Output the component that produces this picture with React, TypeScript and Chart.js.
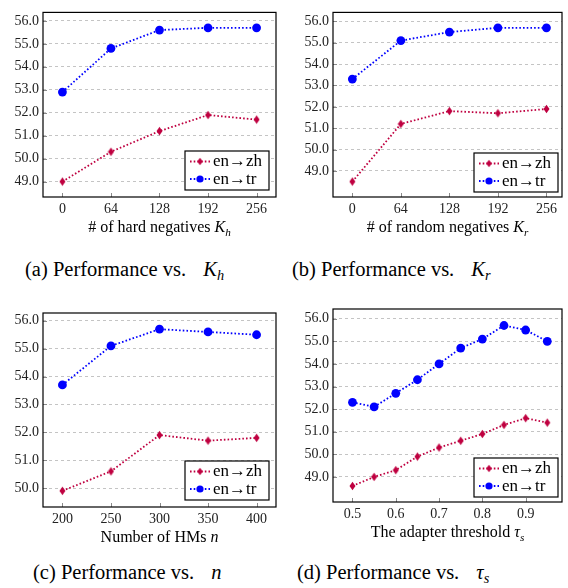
import React, { useEffect, useRef } from 'react';
import { Chart, registerables } from 'chart.js';

Chart.register(...registerables);

// ---------- data ----------
const seriesLabels = ['en\u2192zh', 'en\u2192tr'];

const kValues = [0, 64, 128, 192, 256];
const hardZh = [49.0, 50.3, 51.2, 51.9, 51.7];
const hardTr = [52.9, 54.8, 55.6, 55.7, 55.7];
const randZh = [48.5, 51.2, 51.8, 51.7, 51.9];
const randTr = [53.3, 55.1, 55.5, 55.7, 55.7];

const hmValues = [200, 250, 300, 350, 400];
const hmZh = [49.9, 50.6, 51.9, 51.7, 51.8];
const hmTr = [53.7, 55.1, 55.7, 55.6, 55.5];

const tauValues = [0.5, 0.55, 0.6, 0.65, 0.7, 0.75, 0.8, 0.85, 0.9, 0.95];
const tauZh = [48.6, 49.0, 49.3, 49.9, 50.3, 50.6, 50.9, 51.3, 51.6, 51.4];
const tauTr = [52.3, 52.1, 52.7, 53.3, 54.0, 54.7, 55.1, 55.7, 55.5, 55.0];

const kTicks = [0, 64, 128, 192, 256];
const hmTicks = [200, 250, 300, 350, 400];
const tauTicks = [0.5, 0.6, 0.7, 0.8, 0.9];
const yTicks49 = [49, 50, 51, 52, 53, 54, 55, 56];
const yTicks50 = [50, 51, 52, 53, 54, 55, 56];

const ZH_COLOR = 'rgb(191,0,64)';
const TR_COLOR = 'rgb(0,0,255)';
const SERIF = '"Liberation Serif", "Times New Roman", Tinos, "DejaVu Serif", serif';

type Seg = { t: string; italic?: boolean; sub?: boolean };

type Spec = {
  box: { left: number; top: number; w: number; h: number };
  area: { l: number; r: number; t: number; b: number };
  xs: number[];
  xTicks: number[];
  xMin: number;
  xMax: number;
  xFmt: (v: number) => string;
  yMin: number;
  yMax: number;
  yTicks: number[];
  zh: number[];
  tr: number[];
  title: Seg[];
  legendInset: { r: number; b: number };
};

function makeDiamond(w: number, h: number, color: string) {
  const c = document.createElement('canvas');
  c.width = Math.ceil(w) + 1;
  c.height = Math.ceil(h) + 1;
  const ctx = c.getContext('2d')!;
  const cx = c.width / 2;
  const cy = c.height / 2;
  ctx.fillStyle = color;
  ctx.beginPath();
  ctx.moveTo(cx, cy - h / 2);
  ctx.lineTo(cx + w / 2, cy);
  ctx.lineTo(cx, cy + h / 2);
  ctx.lineTo(cx - w / 2, cy);
  ctx.closePath();
  ctx.fill();
  return c;
}

function drawSegs(ctx: CanvasRenderingContext2D, segs: Seg[], cx: number, cy: number, size: number) {
  const fontOf = (s: Seg) => `${s.italic ? 'italic ' : ''}${s.sub ? size * 0.7 : size}px ${SERIF}`;
  let total = 0;
  const widths = segs.map((s) => {
    ctx.font = fontOf(s);
    const w = ctx.measureText(s.t).width;
    total += w;
    return w;
  });
  let x = cx - total / 2;
  ctx.textBaseline = 'alphabetic';
  ctx.textAlign = 'left';
  ctx.fillStyle = '#000';
  const base = cy + size * 0.33;
  segs.forEach((s, i) => {
    ctx.font = fontOf(s);
    ctx.fillText(s.t, x, s.sub ? base + size * 0.22 : base);
    x += widths[i];
  });
}

function PlotCanvas({ spec }: { spec: Spec }) {
  const ref = useRef<HTMLCanvasElement | null>(null);
  useEffect(() => {
    const canvas = ref.current!;
    const { box, area } = spec;
    const yw = area.l - box.left;
    const padTop = area.t - box.top;
    const padRight = box.left + box.w - area.r;
    const xh = box.top + box.h - area.b;

    const diamond = makeDiamond(6, 8.5, ZH_COLOR);
    const diamondSmall = makeDiamond(5.5, 7.5, ZH_COLOR);

    const framePlugin = {
      id: 'frame',
      beforeDatasetsDraw(chart: any) {
        const { ctx, chartArea: ca, scales } = chart;
        ctx.save();
        ctx.strokeStyle = '#8a8a8a';
        ctx.lineWidth = 1;
        spec.xTicks.forEach((v) => {
          const x = Math.round(scales.x.getPixelForValue(v)) + 0.5;
          ctx.beginPath();
          ctx.moveTo(x, ca.bottom);
          ctx.lineTo(x, ca.bottom - 4);
          ctx.stroke();
        });
        spec.yTicks.forEach((v) => {
          const y = Math.round(scales.y.getPixelForValue(v)) + 0.5;
          ctx.beginPath();
          ctx.moveTo(ca.left, y);
          ctx.lineTo(ca.left + 4, y);
          ctx.stroke();
        });
        ctx.strokeStyle = '#000';
        ctx.lineWidth = 1.2;
        ctx.strokeRect(ca.left, ca.top, ca.right - ca.left, ca.bottom - ca.top);
        ctx.restore();
      },
      afterDraw(chart: any) {
        const { ctx, chartArea: ca } = chart;
        ctx.save();
        drawSegs(ctx, spec.title, (ca.left + ca.right) / 2, ca.bottom + 30, 16);
        const lw = 84;
        const lh = 39;
        const lx = ca.right - spec.legendInset.r - lw;
        const ly = ca.bottom - spec.legendInset.b - lh;
        ctx.fillStyle = '#fff';
        ctx.fillRect(lx, ly, lw, lh);
        ctx.strokeStyle = '#000';
        ctx.lineWidth = 1.2;
        ctx.strokeRect(lx, ly, lw, lh);
        const rows = [
          { label: seriesLabels[0], color: ZH_COLOR, kind: 'diamond', y: ly + 10.5 },
          { label: seriesLabels[1], color: TR_COLOR, kind: 'circle', y: ly + 28 },
        ];
        rows.forEach((r) => {
          ctx.strokeStyle = r.color;
          ctx.lineWidth = 1.8;
          ctx.setLineDash([1.6, 2.1]);
          ctx.beginPath();
          ctx.moveTo(lx + 5, r.y);
          ctx.lineTo(lx + 25, r.y);
          ctx.stroke();
          ctx.setLineDash([]);
          if (r.kind === 'diamond') {
            ctx.drawImage(diamondSmall, lx + 15 - diamondSmall.width / 2, r.y - diamondSmall.height / 2);
          } else {
            ctx.fillStyle = r.color;
            ctx.beginPath();
            ctx.arc(lx + 15, r.y, 3.6, 0, Math.PI * 2);
            ctx.fill();
          }
          ctx.fillStyle = '#000';
          ctx.font = `17px ${SERIF}`;
          ctx.textBaseline = 'middle';
          ctx.textAlign = 'left';
          ctx.fillText(r.label, lx + 28, r.y + 0.5);
        });
        ctx.restore();
      },
    };

    const chart = new Chart(canvas, {
      type: 'line',
      data: {
        datasets: [
          {
            label: seriesLabels[0],
            data: spec.xs.map((x, i) => ({ x, y: spec.zh[i] })),
            borderColor: ZH_COLOR,
            backgroundColor: ZH_COLOR,
            borderWidth: 1.8,
            borderDash: [1.6, 2.1],
            borderCapStyle: 'butt',
            pointStyle: diamond as any,
            pointRadius: 4,
            tension: 0,
          },
          {
            label: seriesLabels[1],
            data: spec.xs.map((x, i) => ({ x, y: spec.tr[i] })),
            borderColor: TR_COLOR,
            backgroundColor: TR_COLOR,
            borderWidth: 1.8,
            borderDash: [1.6, 2.1],
            borderCapStyle: 'butt',
            pointStyle: 'circle',
            pointRadius: 4.4,
            pointBorderWidth: 0,
            tension: 0,
          },
        ],
      },
      options: {
        animation: false,
        responsive: false,
        devicePixelRatio: 1,
        events: [],
        layout: { padding: { left: 0, top: padTop, right: padRight, bottom: 0 } },
        plugins: { legend: { display: false }, tooltip: { enabled: false }, title: { display: false } },
        scales: {
          x: {
            type: 'linear',
            position: 'bottom',
            min: spec.xMin,
            max: spec.xMax,
            afterBuildTicks: (s: any) => {
              s.ticks = spec.xTicks.map((v) => ({ value: v }));
            },
            afterFit: (s: any) => {
              s.height = xh;
            },
            grid: { display: false, drawTicks: false },
            border: { display: false },
            ticks: {
              padding: 4,
              maxRotation: 0,
              autoSkip: false,
              color: '#222',
              font: { family: SERIF, size: 14 },
              callback: (v: any) => spec.xFmt(Number(v)),
            },
          },
          y: {
            type: 'linear',
            min: spec.yMin,
            max: spec.yMax,
            afterBuildTicks: (s: any) => {
              s.ticks = spec.yTicks.map((v) => ({ value: v }));
            },
            afterFit: (s: any) => {
              s.width = yw;
            },
            grid: { color: '#c4c4c4', lineWidth: 1, drawTicks: false },
            border: { display: false, dash: [3, 3] },
            ticks: {
              padding: 4,
              autoSkip: false,
              color: '#222',
              font: { family: SERIF, size: 14 },
              callback: (v: any) => Number(v).toFixed(1),
            },
          },
        },
      },
      plugins: [framePlugin],
    } as any);
    return () => chart.destroy();
  }, [spec]);

  return (
    <canvas
      ref={ref}
      width={spec.box.w}
      height={spec.box.h}
      style={{ position: 'absolute', left: spec.box.left, top: spec.box.top, width: spec.box.w, height: spec.box.h }}
    />
  );
}

const intFmt = (v: number) => String(Math.round(v));
const tauFmt = (v: number) => v.toFixed(1);

const specs: Spec[] = [
  {
    box: { left: 0, top: 0, w: 284, h: 250 },
    area: { l: 43, r: 276, t: 3, b: 197 },
    xs: kValues, xTicks: kTicks, xMin: -25.6, xMax: 281.6, xFmt: intFmt,
    yMin: 48.33, yMax: 56.37, yTicks: yTicks49,
    zh: hardZh, tr: hardTr,
    title: [{ t: '# of hard negatives ' }, { t: 'K', italic: true }, { t: 'h', italic: true, sub: true }],
    legendInset: { r: 7, b: 7 },
  },
  {
    box: { left: 284, top: 0, w: 284, h: 250 },
    area: { l: 333, r: 562, t: 3, b: 197 },
    xs: kValues, xTicks: kTicks, xMin: -25.5, xMax: 276.5, xFmt: intFmt,
    yMin: 47.78, yMax: 56.42, yTicks: yTicks49,
    zh: randZh, tr: randTr,
    title: [{ t: '# of random negatives ' }, { t: 'K', italic: true }, { t: 'r', italic: true, sub: true }],
    legendInset: { r: 4, b: 5 },
  },
  {
    box: { left: 0, top: 290, w: 284, h: 260 },
    area: { l: 43, r: 276, t: 313, b: 507 },
    xs: hmValues, xTicks: hmTicks, xMin: 180, xMax: 420, xFmt: intFmt,
    yMin: 49.32, yMax: 56.28, yTicks: yTicks50,
    zh: hmZh, tr: hmTr,
    title: [{ t: 'Number of HMs ' }, { t: 'n', italic: true }],
    legendInset: { r: 7, b: 7 },
  },
  {
    box: { left: 284, top: 290, w: 284, h: 260 },
    area: { l: 333, r: 562, t: 309, b: 502 },
    xs: tauValues, xTicks: tauTicks, xMin: 0.455, xMax: 0.984, xFmt: tauFmt,
    yMin: 47.89, yMax: 56.43, yTicks: yTicks49,
    zh: tauZh, tr: tauTr,
    title: [{ t: 'The adapter threshold ' }, { t: '\u03C4', italic: true }, { t: 's', italic: true, sub: true }],
    legendInset: { r: 4, b: 5 },
  },
];

function Caption({ left, top, label, sym, sub }: { left: number; top: number; label: string; sym: string; sub?: string }) {
  return (
    <div
      style={{
        position: 'absolute',
        left,
        top,
        fontFamily: SERIF,
        fontSize: 20.5,
        lineHeight: '22px',
        whiteSpace: 'nowrap',
        color: '#000',
      }}
    >
      {label} Performance vs.{' '}
      <span style={{ fontStyle: 'italic', marginLeft: 12 }}>{sym}</span>
      {sub ? (
        <span style={{ fontStyle: 'italic', fontSize: '0.7em', position: 'relative', top: '0.3em' }}>{sub}</span>
      ) : null}
    </div>
  );
}

export default function App() {
  return (
    <div style={{ position: 'absolute', left: 0, top: 0, width: 568, height: 588, background: '#fff', overflow: 'hidden' }}>
      {specs.map((s, i) => (
        <PlotCanvas key={i} spec={s} />
      ))}
      <Caption left={25} top={258} label="(a)" sym="K" sub="h" />
      <Caption left={292} top={258} label="(b)" sym="K" sub="r" />
      <Caption left={33} top={561} label="(c)" sym="n" />
      <Caption left={297} top={561} label="(d)" sym={'\u03C4'} sub="s" />
    </div>
  );
}
